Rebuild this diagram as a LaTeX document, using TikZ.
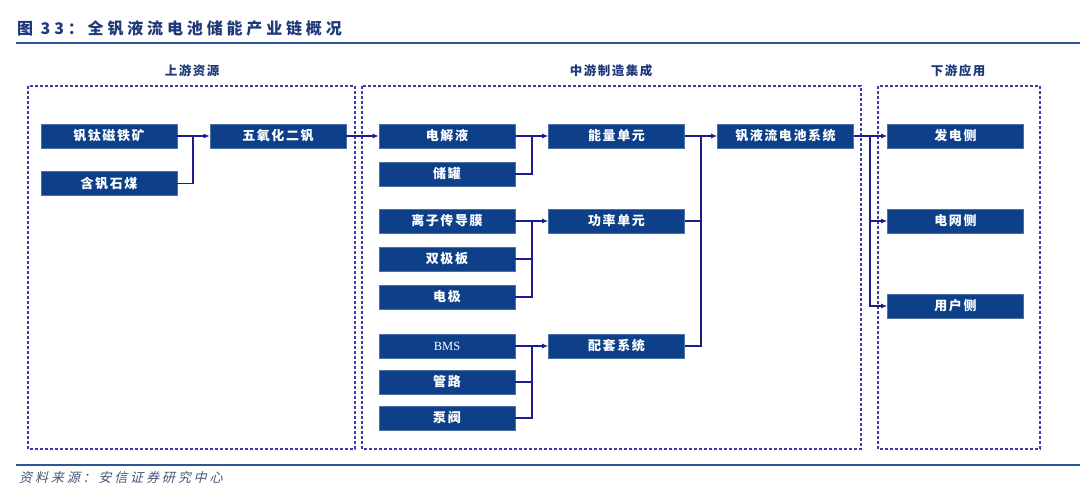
\documentclass[tikz,border=0pt]{standalone}
\usepackage{fontspec}
\setmainfont{Liberation Serif}
\newfontfamily\cjk[LetterSpace=12]{Noto Sans CJK SC}
\newfontfamily\cjktitle[LetterSpace=24]{Noto Sans CJK SC}
\newfontfamily\cjknote[LetterSpace=22,FakeSlant=0.25]{Noto Sans CJK SC}
\usetikzlibrary{arrows.meta}

\definecolor{boxblue}{RGB}{14,64,137}
\definecolor{linenavy}{RGB}{28,28,140}
\definecolor{dashpurple}{RGB}{62,62,170}
\definecolor{titleblue}{RGB}{31,58,122}
\definecolor{ruleblue}{RGB}{46,85,151}
\definecolor{notegray}{RGB}{70,84,120}

\begin{document}
\begin{tikzpicture}[x=1pt,y=-1pt,
  item/.style={draw=boxblue!75!white,fill=boxblue,text=white,line width=0.6pt,
    minimum width=136pt,minimum height=24pt,inner sep=0pt,
    font=\cjk\bfseries\fontsize{13}{13}\selectfont},
  zone/.style={draw=dashpurple,line width=1.3pt,dash pattern=on 3pt off 2pt},
  link/.style={draw=linenavy,line width=1.1pt},
  feed/.style={link,-{Latex[length=6pt,width=5pt]}},
  head/.style={text=titleblue,font=\cjk\bfseries\fontsize{12.5}{12.5}\selectfont}]

\useasboundingbox (0,0) rectangle (1080,492);

% title and rules
\node[anchor=west,inner sep=0pt,text=titleblue,font=\cjktitle\bfseries\fontsize{16}{16}\selectfont] (title) at (17,28) {图 33：全钒液流电池储能产业链概况};
\draw[ruleblue,line width=1.5pt] (16,43) -- (1080,43);
\draw[ruleblue,line width=1.5pt] (16,465) -- (1080,465);
\node[anchor=west,inner sep=0pt,text=notegray,font=\cjknote\fontsize{13}{13}\selectfont] (note) at (19,478) {资料来源：安信证券研究中心};

% zones
\node[head] (upstream) at (192,71) {上游资源};
\node[head] (midstream) at (611,71) {中游制造集成};
\node[head] (downstream) at (958,71) {下游应用};
\draw[zone] (28,86) rectangle (355,449);
\draw[zone] (362,86) rectangle (861,449);
\draw[zone] (878,86) rectangle (1040,449);

% upstream
\node[item] (ore) at (109,136) {钒钛磁铁矿};
\node[item] (coal) at (109,183.5) {含钒石煤};
\node[item] (oxide) at (278,136) {五氧化二钒};

% parts
\node[item] (elyte) at (447,136) {电解液};
\node[item] (tank) at (447,174) {储罐};
\node[item] (membrane) at (447,221) {离子传导膜};
\node[item] (plate) at (447,259) {双极板};
\node[item] (electrode) at (447,297) {电极};
\node[item,font=\rmfamily\fontsize{12.5}{12.5}\selectfont] (bms) at (447,346) {BMS};
\node[item] (pipe) at (447,382) {管路};
\node[item] (valve) at (447,418) {泵阀};

% units
\node[item] (energy) at (616.5,136) {能量单元};
\node[item] (power) at (616.5,221) {功率单元};
\node[item] (support) at (616.5,346) {配套系统};
\node[item] (system) at (785.5,136) {钒液流电池系统};

% downstream
\node[item] (gen) at (955.5,136) {发电侧};
\node[item] (grid) at (955.5,221) {电网侧};
\node[item] (user) at (955.5,306) {用户侧};

% junctions
\coordinate (j1) at (193,136);
\coordinate (j2) at (532,136);
\coordinate (j3) at (532,221);
\coordinate (j4) at (532,346);
\coordinate (j5) at (701,136);
\coordinate (j6) at (870,136);

\draw[feed] (ore) -- (oxide);
\draw[link] (coal.east) -| (j1);
\draw[feed] (oxide) -- (elyte);

\draw[feed] (elyte) -- (energy);
\draw[link] (tank.east) -| (j2);
\draw[feed] (membrane) -- (power);
\draw[link] (plate.east) -| (j3);
\draw[link] (electrode.east) -| (j3);
\draw[feed] (bms) -- (support);
\draw[link] (pipe.east) -| (j4);
\draw[link] (valve.east) -| (j4);

\draw[feed] (energy) -- (system);
\draw[link] (power.east) -| (j5);
\draw[link] (support.east) -| (j5);

\draw[feed] (system) -- (gen);
\draw[feed] (j6) |- (grid.west);
\draw[feed] (j6) |- (user.west);

\end{tikzpicture}
\end{document}
